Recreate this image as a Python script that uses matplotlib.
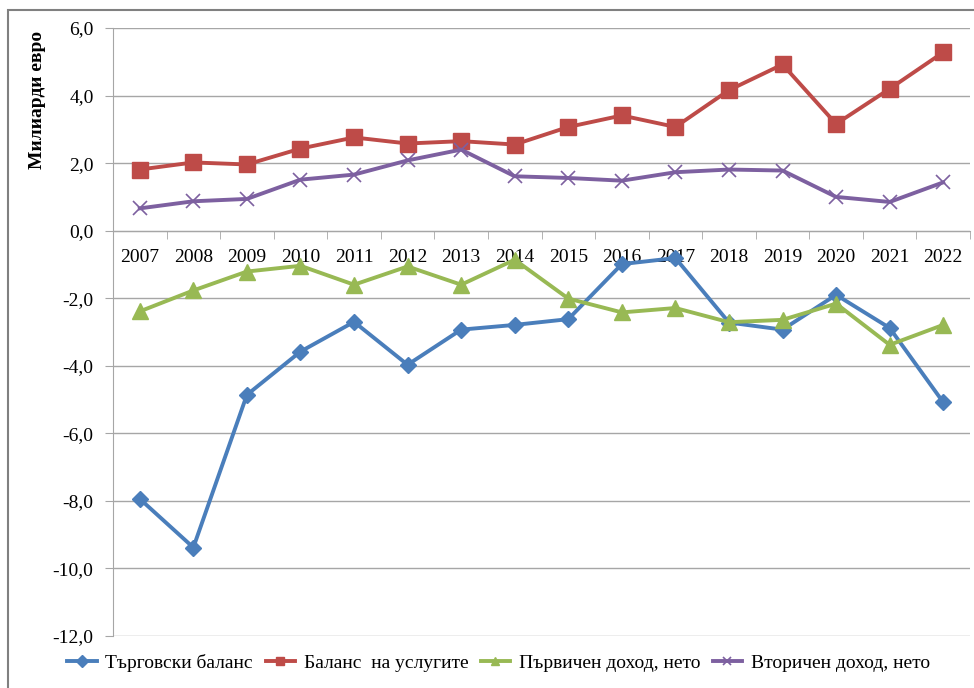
import numpy as np
import matplotlib.pyplot as plt
from matplotlib.patches import Rectangle
from matplotlib.ticker import FuncFormatter, FixedLocator

plt.rcParams['font.family'] = ['Liberation Serif', 'DejaVu Serif']

years = [str(y) for y in range(2007, 2023)]
trade = [-7.94, -9.38, -4.86, -3.58, -2.70, -3.97, -2.93, -2.79,
         -2.62, -0.99, -0.81, -2.72, -2.93, -1.90, -2.88, -5.08]
services = [1.81, 2.02, 1.96, 2.43, 2.76, 2.58, 2.65, 2.55,
            3.07, 3.41, 3.07, 4.16, 4.92, 3.16, 4.20, 5.28]
primary = [-2.39, -1.77, -1.21, -1.04, -1.60, -1.06, -1.60, -0.86,
           -2.01, -2.42, -2.29, -2.71, -2.64, -2.16, -3.38, -2.79]
secondary = [0.66, 0.87, 0.94, 1.51, 1.66, 2.08, 2.40, 1.61,
             1.56, 1.48, 1.73, 1.81, 1.78, 1.00, 0.85, 1.43]
names = ['Търговски баланс', 'Баланс  на услугите',
         'Първичен доход, нето', 'Вторичен доход, нето']

fig = plt.figure(figsize=(9.74, 6.88), dpi=100)
ax = fig.add_axes([113/974, 1 - 636/688, 857/974, 608/688])

x = np.arange(len(years))
ax.plot(x, trade, color='#4A7EBB', lw=2.8, marker='D', ms=8, label=names[0])
ax.plot(x, services, color='#BE4B48', lw=2.8, marker='s', ms=11, label=names[1])
ax.plot(x, primary, color='#98B954', lw=2.8, marker='^', ms=11, label=names[2])
ax.plot(x, secondary, color='#7D60A0', lw=2.8, marker='x', ms=10, mew=1.2, label=names[3])

ax.set_xlim(-0.5, len(years) - 0.5)
ax.set_ylim(-12, 6)
ax.set_yticks(np.arange(-12, 6.1, 2))
ax.yaxis.set_major_formatter(FuncFormatter(lambda v, p: f'{v:.1f}'.replace('.', ',')))
ax.grid(axis='y', color='#A6A6A6', lw=1)
ax.set_axisbelow(True)

for s in ['top', 'right']:
    ax.spines[s].set_visible(False)
ax.spines['left'].set_color('#A6A6A6')
ax.spines['bottom'].set_color('#A6A6A6')
ax.spines['bottom'].set_position(('data', 0))

ax.set_xticks(x)
ax.set_xticklabels(years)
ax.xaxis.set_minor_locator(FixedLocator(np.arange(0.5, len(years), 1)))
ax.tick_params(axis='x', which='major', length=0, pad=13, labelsize=14)
ax.tick_params(axis='x', which='minor', length=6, color='#A6A6A6', direction='out')
ax.tick_params(axis='y', length=6, color='#A6A6A6', labelsize=14, pad=8)

fig.text(38/974, 1 - 100/688, 'Милиарди евро', rotation=90, ha='center', va='center',
         fontsize=14, fontweight='bold')

leg = fig.legend(loc='lower center', bbox_to_anchor=(0.512, -0.002), ncol=4, frameon=False,
                 fontsize=14, handlelength=1.5, columnspacing=0.65, handletextpad=0.45)
for h in leg.legend_handles:
    h.set_markersize(6)

fig.patches.append(Rectangle((8/974, -0.1), 1.2, 1 - 10/688 + 0.1, transform=fig.transFigure,
                             fill=False, edgecolor='#808080', lw=1.5))

fig.savefig('out.png', dpi=100)
